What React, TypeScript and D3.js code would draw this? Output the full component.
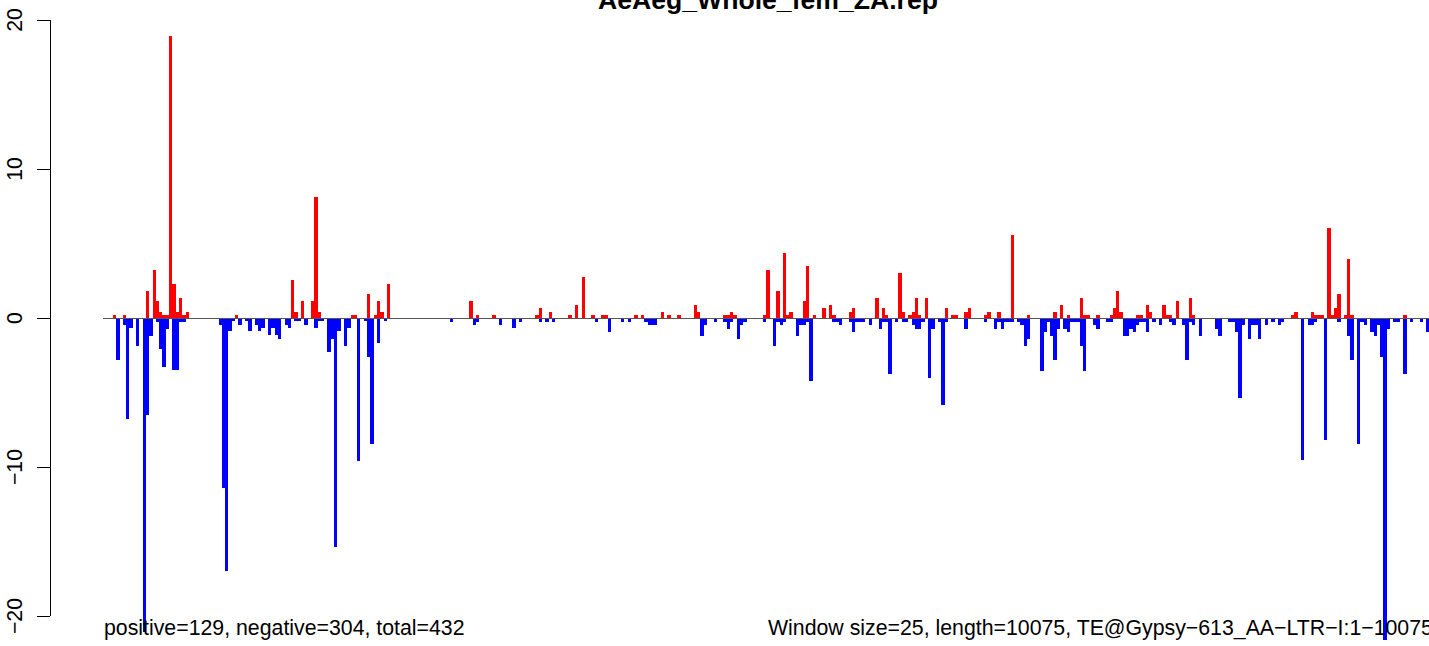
import React from 'react';
import * as d3 from 'd3';

// window index (25 bp windows, 0-based) and value
const positive: [number, number][] = [
  [3, 0.2], [6, 0.2], [13, 1.8], [15, 3.2], [16, 1.14], [17, 0.4], [18, 0.2], [19, 0.2],
  [20, 18.9], [21, 2.3], [22, 0.4], [23, 1.36], [24, 0.2], [25, 0.4], [40, 0.18],
  [57, 2.55], [58, 0.42], [60, 1.14], [63, 1.14], [64, 8.1], [65, 0.42], [75, 0.2],
  [76, 0.2], [80, 1.6], [82, 0.2], [83, 1.14], [84, 0.4], [86, 2.3], [111, 1.16],
  [113, 0.2], [118, 0.2], [131, 0.2], [132, 0.67], [135, 0.4], [141, 0.2], [143, 0.87],
  [145, 2.75], [148, 0.2], [151, 0.2], [152, 0.2], [161, 0.2], [163, 0.2], [169, 0.4],
  [171, 0.2], [174, 0.2], [179, 0.87], [180, 0.4], [188, 0.2], [189, 0.2], [190, 0.4],
  [191, 0.2], [200, 0.2], [201, 3.2], [204, 1.8], [206, 4.36], [207, 0.2], [208, 0.4],
  [212, 1.14], [213, 3.5], [215, 0.2], [218, 0.67], [220, 0.87], [221, 0.2], [226, 0.4],
  [227, 0.67], [234, 1.34], [236, 0.67], [237, 0.2], [241, 3.0], [242, 0.4], [244, 0.2],
  [245, 0.4], [246, 1.34], [247, 0.2], [249, 1.34], [255, 0.67], [257, 0.2], [258, 0.2],
  [261, 0.4], [262, 0.67], [267, 0.2], [268, 0.4], [271, 0.4], [275, 5.57], [280, 0.2],
  [288, 0.4], [290, 0.87], [292, 0.2], [296, 1.34], [297, 0.2], [298, 0.2], [301, 0.2],
  [305, 0.2], [306, 0.67], [307, 1.8], [308, 0.4], [313, 0.2], [314, 0.2], [316, 0.87],
  [317, 0.4], [321, 0.87], [322, 0.2], [323, 0.2], [325, 1.14], [329, 1.34], [330, 0.2],
  [360, 0.2], [361, 0.4], [366, 0.4], [367, 0.2], [368, 0.2], [369, 0.2], [371, 6.04],
  [372, 0.2], [373, 0.67], [374, 1.6], [376, 0.2], [377, 3.96], [378, 0.2], [394, 0.2],
];

const negative: [number, number][] = [
  [4, -2.8], [6, -0.45], [7, -6.8], [8, -0.7], [10, -1.86], [12, -21.1], [13, -6.5],
  [14, -1.2], [16, -0.27], [17, -2.1], [18, -3.27], [19, -0.74], [21, -3.5], [22, -3.5],
  [23, -0.27], [24, -0.27], [35, -0.45], [36, -11.4], [37, -17], [38, -0.9], [39, -0.22],
  [41, -0.45], [43, -0.2], [44, -0.9], [46, -0.45], [47, -0.9], [48, -0.67], [50, -1.16],
  [51, -0.67], [52, -1.16], [53, -1.4], [55, -0.45], [56, -0.7], [58, -0.22], [59, -0.22],
  [61, -0.45], [64, -0.7], [65, -0.22], [66, -0.22], [68, -2.3], [69, -1.4], [70, -15.4],
  [71, -0.9], [73, -1.86], [74, -0.7], [77, -9.6], [79, -0.22], [80, -2.6], [81, -8.45],
  [83, -1.65], [85, -0.22], [105, -0.25], [112, -0.45], [113, -0.25], [120, -0.45],
  [124, -0.7], [126, -0.25], [132, -0.25], [134, -0.25], [136, -0.25], [149, -0.27],
  [153, -0.94], [157, -0.27], [159, -0.27], [164, -0.27], [165, -0.47], [166, -0.47],
  [167, -0.47], [181, -1.2], [182, -0.47], [185, -0.27], [188, -0.27], [189, -0.74],
  [190, -0.27], [192, -1.4], [193, -0.47], [194, -0.27], [200, -0.27], [203, -1.9],
  [204, -0.27], [205, -0.47], [206, -0.27], [210, -1.2], [211, -0.47], [212, -0.47],
  [213, -0.27], [214, -4.2], [221, -0.27], [222, -0.27], [223, -0.47], [226, -0.27],
  [227, -0.94], [228, -0.27], [229, -0.27], [230, -0.27], [232, -0.47], [235, -0.74],
  [236, -0.27], [237, -0.27], [238, -3.76], [240, -0.27], [242, -0.27], [243, -0.27],
  [245, -0.47], [246, -0.74], [247, -0.74], [248, -0.27], [250, -4.0], [251, -0.74],
  [253, -0.27], [254, -5.84], [255, -0.27], [261, -0.74], [267, -0.27], [270, -0.74],
  [271, -0.27], [272, -0.74], [273, -0.27], [274, -0.27], [275, -0.27], [277, -0.27],
  [278, -0.47], [279, -1.88], [280, -1.4], [284, -3.56], [285, -0.94], [286, -0.27],
  [287, -1.2], [288, -2.8], [289, -0.74], [291, -0.74], [292, -0.94], [293, -0.27],
  [294, -0.27], [295, -0.27], [296, -1.88], [297, -3.56], [300, -0.47], [301, -0.74],
  [304, -0.27], [305, -0.27], [309, -1.2], [310, -1.2], [311, -0.74], [312, -0.94],
  [313, -0.47], [314, -0.27], [315, -0.27], [316, -0.94], [318, -0.27], [320, -0.47],
  [323, -0.27], [324, -0.47], [327, -0.47], [328, -2.8], [329, -0.27], [330, -0.47],
  [332, -1.2], [337, -0.74], [338, -1.2], [341, -0.27], [342, -0.27], [343, -0.94],
  [344, -5.37], [345, -0.47], [347, -1.4], [348, -0.47], [349, -0.47], [350, -1.4],
  [352, -0.47], [354, -0.27], [356, -0.47], [357, -0.27], [363, -9.5], [365, -0.47],
  [366, -0.47], [367, -0.27], [370, -8.2], [374, -0.27], [377, -1.2], [378, -2.8],
  [380, -8.45], [381, -0.27], [382, -0.47], [384, -0.94], [385, -1.2], [386, -0.47],
  [387, -2.6], [388, -21.6], [389, -0.74], [391, -0.27], [392, -0.27], [394, -3.76],
  [396, -0.27], [399, -0.27], [401, -0.94],
];

const yTicks = [-20, -10, 0, 10, 20];
const nWindows = 403;

const title = 'AeAeg_Whole_fem_ZA.rep';
const leftNote = 'positive=129, negative=304, total=432';
const rightNote = 'Window size=25, length=10075, TE@Gypsy\u2212613_AA\u2212LTR\u2212I:1\u221210075';

const width = 1429;
const height = 646;
const font = '"Liberation Sans", Arial, Helvetica, sans-serif';

export default function App() {
  const x = d3.scaleLinear().domain([0, nWindows]).range([103, 103 + nWindows * 3.3]);
  const y = d3.scaleLinear().domain([-20, 20]).range([616, 20]);
  const axisX = 50;

  return (
    <svg
      width={width}
      height={height}
      style={{ position: 'absolute', left: 0, top: 0, background: '#fff' }}
      fontFamily={font}
    >
      {/* bars */}
      <g shapeRendering="crispEdges">
        {positive.map(([i, v]) => (
          <rect key={'p' + i} x={x(i)} width={x(i + 1) - x(i)} y={y(v)} height={y(0) - y(v)} fill="#ff0000" />
        ))}
        {negative.map(([i, v]) => (
          <rect key={'n' + i} x={x(i)} width={x(i + 1) - x(i)} y={y(0)} height={y(v) - y(0)} fill="#0000ff" />
        ))}
      </g>

      {/* zero line */}
      <line x1={x(0)} x2={x(nWindows)} y1={y(0)} y2={y(0)} stroke="#555" strokeWidth={1} shapeRendering="crispEdges" />

      {/* y axis */}
      <g stroke="#000" strokeWidth={1} shapeRendering="crispEdges">
        <line x1={axisX} x2={axisX} y1={y(20)} y2={y(-20)} />
        {yTicks.map(t => (
          <line key={t} x1={axisX - 13} x2={axisX} y1={y(t)} y2={y(t)} />
        ))}
      </g>
      {yTicks.map(t => (
        <text
          key={'l' + t}
          transform={`translate(22,${y(t)}) rotate(-90)`}
          textAnchor="middle"
          fontSize={21.3}
          fill="#000"
        >
          {t < 0 ? '\u2212' + Math.abs(t) : String(t)}
        </text>
      ))}

      {/* title and notes */}
      <text x={768} y={9} textAnchor="middle" fontSize={26.6} fontWeight="bold" fill="#000">
        {title}
      </text>
      <text x={104} y={635} fontSize={21.3} fill="#000">
        {leftNote}
      </text>
      <text x={768} y={635} fontSize={21.3} fill="#000">
        {rightNote}
      </text>
    </svg>
  );
}
